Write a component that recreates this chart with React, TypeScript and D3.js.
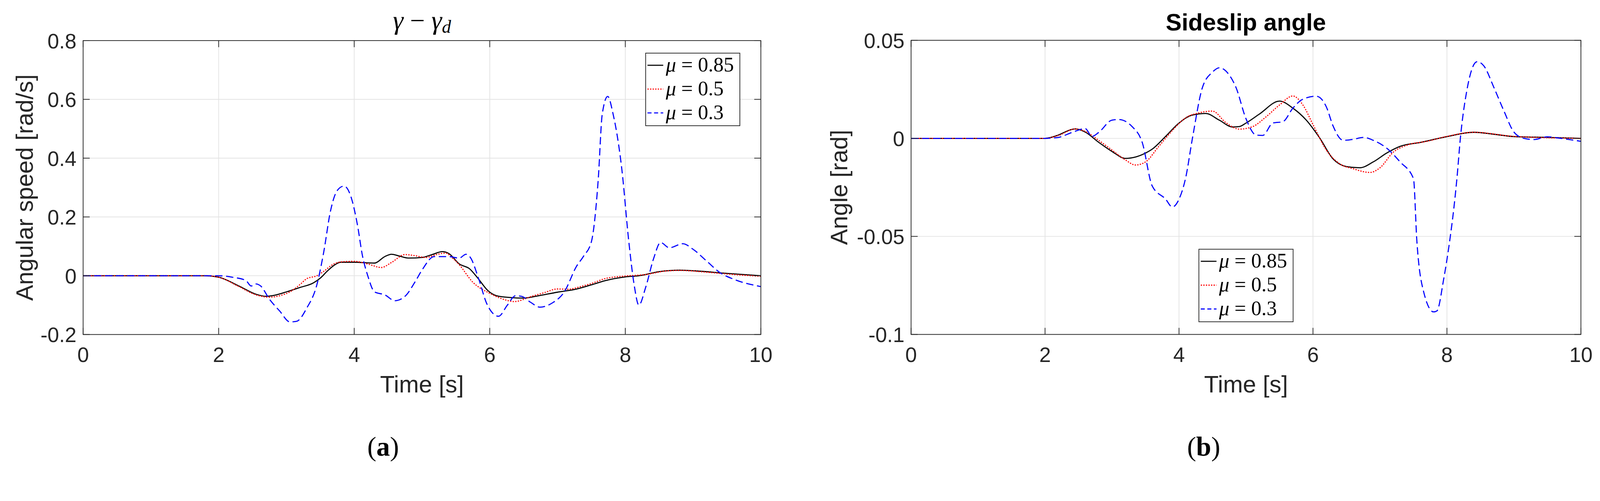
import { scaleLinear, line, curveMonotoneX } from "d3";

// time axis, shared by both panels
const timeTicks = [0, 2, 4, 6, 8, 10];

// panel (a): yaw rate error gamma - gamma_d [rad/s]
const yawTicks = [-0.2, 0, 0.2, 0.4, 0.6, 0.8];
const yawMu085: [number, number][] = [
  [0, 0], [1.8, 0], [2.0, -0.005], [2.3, -0.035], [2.55, -0.063], [2.7, -0.07],
  [2.85, -0.065], [3.0, -0.055], [3.2, -0.04], [3.4, -0.024], [3.5, -0.008],
  [3.6, 0.015], [3.7, 0.035], [3.8, 0.046], [4.0, 0.046], [4.3, 0.043],
  [4.45, 0.065], [4.55, 0.073], [4.65, 0.068], [4.8, 0.06], [5.0, 0.062],
  [5.15, 0.072], [5.3, 0.082], [5.4, 0.075], [5.55, 0.04], [5.7, 0.024],
  [5.83, -0.01], [5.97, -0.05], [6.1, -0.068], [6.3, -0.074], [6.5, -0.076],
  [6.7, -0.069], [7.0, -0.056], [7.25, -0.047], [7.5, -0.031], [7.7, -0.017],
  [8.0, -0.004], [8.2, 0.0], [8.5, 0.014], [8.8, 0.019], [9.0, 0.017],
  [9.5, 0.008], [10, 0.0],
];
const yawMu05: [number, number][] = [
  [0, 0], [1.8, 0], [2.0, -0.005], [2.3, -0.037], [2.55, -0.065], [2.75, -0.073],
  [2.9, -0.068], [3.05, -0.055], [3.2, -0.03], [3.3, -0.01], [3.45, 0.0],
  [3.55, 0.015], [3.7, 0.04], [3.85, 0.048], [4.0, 0.049], [4.2, 0.04],
  [4.4, 0.028], [4.55, 0.045], [4.75, 0.072], [4.9, 0.068], [5.05, 0.062],
  [5.25, 0.074], [5.35, 0.077], [5.45, 0.06], [5.54, 0.04], [5.75, -0.022],
  [6.0, -0.06], [6.2, -0.08], [6.36, -0.088], [6.62, -0.07], [6.8, -0.058],
  [7.0, -0.045], [7.16, -0.046], [7.34, -0.037], [7.52, -0.025], [7.7, -0.01],
  [8.0, -0.001], [8.3, 0.004], [8.6, 0.016], [8.8, 0.018], [9.2, 0.012],
  [9.6, 0.004], [10, -0.002],
];
const yawMu03: [number, number][] = [
  [0, 0], [2.0, 0], [2.2, -0.005], [2.4, -0.016], [2.48, -0.035], [2.55, -0.028],
  [2.62, -0.035], [2.75, -0.08], [2.9, -0.12], [3.05, -0.157], [3.15, -0.155],
  [3.3, -0.11], [3.45, -0.03], [3.55, 0.08], [3.65, 0.22], [3.75, 0.29],
  [3.85, 0.305], [3.95, 0.27], [4.05, 0.17], [4.12, 0.07], [4.2, 0.0],
  [4.3, -0.055], [4.45, -0.065], [4.6, -0.085], [4.75, -0.07], [4.9, -0.02],
  [5.0, 0.019], [5.18, 0.065], [5.4, 0.065], [5.55, 0.06], [5.65, 0.073],
  [5.72, 0.06], [5.83, -0.006], [5.96, -0.097], [6.13, -0.138], [6.26, -0.1],
  [6.38, -0.068], [6.47, -0.07], [6.6, -0.09], [6.74, -0.107], [6.92, -0.093],
  [7.1, -0.055], [7.28, 0.032], [7.38, 0.065], [7.5, 0.116], [7.6, 0.325],
  [7.66, 0.55], [7.74, 0.61], [7.82, 0.55], [7.95, 0.36], [8.05, 0.12],
  [8.13, -0.03], [8.2, -0.1], [8.3, -0.04], [8.42, 0.06], [8.52, 0.113],
  [8.65, 0.095], [8.85, 0.109], [9.0, 0.09], [9.2, 0.05], [9.4, 0.01],
  [9.6, -0.012], [10, -0.037],
];

// panel (b): sideslip angle [rad]
const slipTicks = [-0.1, -0.05, 0, 0.05];
const slipMu085: [number, number][] = [
  [0, 0], [1.8, 0], [2.0, 0], [2.2, 0.0017], [2.35, 0.004], [2.45, 0.0048],
  [2.6, 0.0032], [2.8, -0.002], [3.0, -0.0067], [3.2, -0.0102], [3.35, -0.0095],
  [3.5, -0.0075], [3.6, -0.0055], [3.8, 0.001], [4.0, 0.0078], [4.2, 0.0119],
  [4.4, 0.0127], [4.6, 0.0093], [4.8, 0.0058], [4.9, 0.006], [5.0, 0.0078],
  [5.2, 0.0124], [5.5, 0.019], [5.7, 0.0154], [5.9, 0.0093], [6.1, 0.0002],
  [6.3, -0.0105], [6.5, -0.0144], [6.7, -0.015], [6.9, -0.012], [7.1, -0.0075],
  [7.3, -0.0041], [7.6, -0.0021], [8.0, 0.0009], [8.4, 0.0031], [8.7, 0.0021],
  [9.0, 0.0009], [9.5, 0.0005], [10, 0],
];
const slipMu05: [number, number][] = [
  [0, 0], [1.8, 0], [2.0, 0], [2.2, 0.0015], [2.45, 0.0048], [2.6, 0.0035],
  [2.8, -0.001], [3.0, -0.006], [3.2, -0.011], [3.35, -0.0136], [3.5, -0.012],
  [3.7, -0.004], [3.9, 0.004], [4.1, 0.0105], [4.3, 0.013], [4.5, 0.0139],
  [4.7, 0.008], [4.9, 0.0047], [5.1, 0.006], [5.3, 0.011], [5.5, 0.017],
  [5.7, 0.0216], [5.85, 0.017], [6.0, 0.007], [6.2, -0.006], [6.4, -0.013],
  [6.6, -0.0155], [6.85, -0.0174], [7.0, -0.015], [7.2, -0.007], [7.4, -0.0035],
  [7.7, -0.0015], [8.0, 0.001], [8.4, 0.0031], [9.0, 0.001], [10, 0],
];
const slipMu03: [number, number][] = [
  [0, 0], [2.0, 0], [2.2, 0.0005], [2.4, 0.003], [2.6, 0.005], [2.7, 0.001],
  [2.8, 0.003], [3.0, 0.0093], [3.1, 0.0096], [3.3, 0.006], [3.45, -0.002],
  [3.6, -0.0243], [3.8, -0.031], [3.9, -0.035], [4.0, -0.031], [4.1, -0.02],
  [4.2, 0.0], [4.35, 0.026], [4.5, 0.0338], [4.6, 0.036], [4.75, 0.0323],
  [4.85, 0.026], [5.0, 0.01], [5.15, 0.0017], [5.25, 0.0015], [5.4, 0.0078],
  [5.55, 0.0085], [5.7, 0.0154], [5.85, 0.02], [6.05, 0.0215], [6.2, 0.016],
  [6.3, 0.0063], [6.45, -0.001], [6.6, -0.0005], [6.75, 0.0005], [6.9, -0.001],
  [7.1, -0.005], [7.3, -0.012], [7.5, -0.0205], [7.55, -0.052], [7.65, -0.078],
  [7.8, -0.0885], [7.85, -0.088], [7.95, -0.072], [8.05, -0.05], [8.1, -0.0365],
  [8.15, -0.02], [8.2, 0.0], [8.3, 0.025], [8.45, 0.0391], [8.55, 0.037],
  [8.7, 0.026], [8.85, 0.014], [9.0, 0.0032], [9.15, 0.0], [9.3, -0.0006],
  [9.5, 0.0008], [9.7, 0.0], [10, -0.0015],
];

const legendLabels = ["0.85", "0.5", "0.3"];

const W = 4364;
const H = 1283;
const SANS = "'Liberation Sans', Arial, Helvetica, sans-serif";
const SERIF = "'Liberation Serif', 'Times New Roman', serif";
const AXIS = "#262626";
const GRID = "#e3e3e3";

const styles = [
  { stroke: "#000000", dash: undefined, legendDash: undefined },
  { stroke: "#ff0000", dash: "3.5,3.5", legendDash: "3.5,3.5" },
  { stroke: "#0000ff", dash: "20,10", legendDash: "11,7" },
];

type PanelProps = {
  id: string;
  left: number;
  right: number;
  top: number;
  bottom: number;
  yDomain: [number, number];
  yTicks: number[];
  series: [number, number][][];
  yLabel: string;
  yLabelX: number;
  legendX: number;
  legendY: number;
};

const fmt = (v: number) => String(+v.toFixed(3));

const Legend = ({ x, y }: { x: number; y: number }) => {
  const w = 257;
  const h = 198;
  return (
    <g transform={`translate(${x},${y})`}>
      <rect width={w} height={h} fill="#fff" stroke={AXIS} strokeWidth={2} />
      {legendLabels.map((lab, i) => {
        const cy = 33 + i * 65;
        return (
          <g key={lab}>
            <line
              x1={5}
              x2={48}
              y1={cy}
              y2={cy}
              stroke={styles[i].stroke}
              strokeWidth={3}
              strokeDasharray={styles[i].legendDash}
            />
            <text x={55} y={cy + 17} fontFamily={SERIF} fontSize={56} fill="#000">
              <tspan fontStyle="italic">μ</tspan>
              <tspan dx={14}>=</tspan>
              <tspan dx={14}>{lab}</tspan>
            </text>
          </g>
        );
      })}
    </g>
  );
};

const Panel = (p: PanelProps) => {
  const x = scaleLinear().domain([0, 10]).range([p.left, p.right]);
  const y = scaleLinear().domain(p.yDomain).range([p.bottom, p.top]);
  const path = line<[number, number]>()
    .x((d) => x(d[0]))
    .y((d) => y(d[1]))
    .curve(curveMonotoneX);
  const tick = 18;
  const midY = (p.top + p.bottom) / 2;
  return (
    <g>
      <defs>
        <clipPath id={`clip-${p.id}`}>
          <rect x={p.left} y={p.top} width={p.right - p.left} height={p.bottom - p.top} />
        </clipPath>
      </defs>
      {timeTicks.map((t) => (
        <line key={`gx${t}`} x1={x(t)} x2={x(t)} y1={p.top} y2={p.bottom} stroke={GRID} strokeWidth={2} />
      ))}
      {p.yTicks.map((v) => (
        <line key={`gy${v}`} x1={p.left} x2={p.right} y1={y(v)} y2={y(v)} stroke={GRID} strokeWidth={2} />
      ))}
      <g clipPath={`url(#clip-${p.id})`}>
        {p.series.map((s, i) => (
          <path
            key={i}
            d={path(s) ?? ""}
            fill="none"
            stroke={styles[i].stroke}
            strokeWidth={3}
            strokeDasharray={styles[i].dash}
            strokeLinejoin="round"
          />
        ))}
      </g>
      {timeTicks.map((t) => (
        <g key={`tx${t}`}>
          <line x1={x(t)} x2={x(t)} y1={p.bottom} y2={p.bottom - tick} stroke={AXIS} strokeWidth={2} />
          <line x1={x(t)} x2={x(t)} y1={p.top} y2={p.top + tick} stroke={AXIS} strokeWidth={2} />
          <text x={x(t)} y={p.bottom + 75} textAnchor="middle" fontFamily={SANS} fontSize={57} fill={AXIS}>
            {t}
          </text>
        </g>
      ))}
      {p.yTicks.map((v) => (
        <g key={`ty${v}`}>
          <line x1={p.left} x2={p.left + tick} y1={y(v)} y2={y(v)} stroke={AXIS} strokeWidth={2} />
          <line x1={p.right} x2={p.right - tick} y1={y(v)} y2={y(v)} stroke={AXIS} strokeWidth={2} />
          <text x={p.left - 18} y={y(v) + 21} textAnchor="end" fontFamily={SANS} fontSize={57} fill={AXIS}>
            {fmt(v)}
          </text>
        </g>
      ))}
      <rect
        x={p.left}
        y={p.top}
        width={p.right - p.left}
        height={p.bottom - p.top}
        fill="none"
        stroke={AXIS}
        strokeWidth={2}
      />
      <text
        x={(p.left + p.right) / 2}
        y={p.bottom + 158}
        textAnchor="middle"
        fontFamily={SANS}
        fontSize={65}
        fill={AXIS}
      >
        Time [s]
      </text>
      <text
        transform={`translate(${p.yLabelX},${midY}) rotate(-90)`}
        textAnchor="middle"
        fontFamily={SANS}
        fontSize={65}
        fill={AXIS}
      >
        {p.yLabel}
      </text>
      <Legend x={p.legendX} y={p.legendY} />
    </g>
  );
};

const App = () => {
  const leftPanel = { left: 226.7, right: 2075.2, top: 110.7, bottom: 912.7 };
  const rightPanel = { left: 2485, right: 4312, top: 110, bottom: 912.5 };
  return (
    <div style={{ position: "fixed", left: 0, top: 0, width: "100vw", background: "#fff" }}>
      <svg
        width="100%"
        viewBox={`0 0 ${W} ${H}`}
        preserveAspectRatio="xMinYMin meet"
        style={{ display: "block" }}
      >
        <rect width={W} height={H} fill="#fff" />
        <Panel
          id="yaw"
          {...leftPanel}
          yDomain={[-0.2, 0.8]}
          yTicks={yawTicks}
          series={[yawMu085, yawMu05, yawMu03]}
          yLabel="Angular speed [rad/s]"
          yLabelX={90}
          legendX={1761}
          legendY={145}
        />
        <Panel
          id="slip"
          {...rightPanel}
          yDomain={[-0.1, 0.05]}
          yTicks={slipTicks}
          series={[slipMu085, slipMu05, slipMu03]}
          yLabel="Angle [rad]"
          yLabelX={2311}
          legendX={3270}
          legendY={680}
        />
        <text x={1151} y={80} textAnchor="middle" fontFamily={SERIF} fontSize={72} fill="#000">
          <tspan fontStyle="italic">γ</tspan>
          <tspan dx={18}>−</tspan>
          <tspan dx={18} fontStyle="italic">γ</tspan>
          <tspan fontStyle="italic" fontSize={50} dy={9}>d</tspan>
        </text>
        <text x={3398} y={83} textAnchor="middle" fontFamily={SANS} fontSize={65} fontWeight="bold" fill="#000">
          Sideslip angle
        </text>
        <text x={1045} y={1243} textAnchor="middle" fontFamily={SERIF} fontSize={74} fill="#000">
          (<tspan fontWeight="bold">a</tspan>)
        </text>
        <text x={3283} y={1243} textAnchor="middle" fontFamily={SERIF} fontSize={74} fill="#000">
          (<tspan fontWeight="bold">b</tspan>)
        </text>
      </svg>
    </div>
  );
};

export default App;
